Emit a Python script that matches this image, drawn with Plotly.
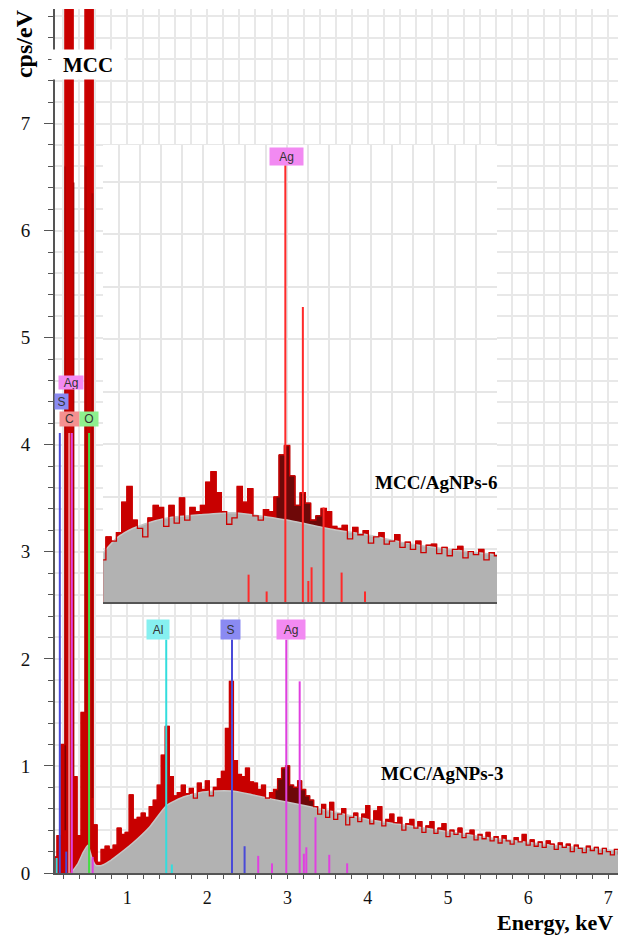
import plotly.graph_objects as go

# ---------------- data: MCC/AgNPs-3 (main spectrum) ----------------
main_e0 = 0.10
main_step = 0.05
cps_main = [
    0.15, 0.35, 1.20, 12.0, 12.0, 0.90, 0.35, 1.50, 12.0, 12.0,
    0.45, 0.10, 0.22, 0.25, 0.22, 0.26, 0.42, 0.36, 0.38, 0.73,
    0.50, 0.52, 0.56, 0.52, 0.62, 0.68, 0.82, 1.10, 1.37, 0.90,
    0.72, 0.75, 0.82, 0.74, 0.79, 0.70, 0.84, 0.78, 0.86, 0.72,
    0.80, 0.88, 0.95, 1.35, 1.79, 1.05, 0.92, 0.90, 0.98, 0.85,
    0.84, 0.78, 0.82, 0.70, 0.75, 0.78, 0.88, 0.98, 1.00, 0.82,
    0.80, 0.86, 0.78, 0.72, 0.68, 0.62, 0.55, 0.64, 0.52, 0.66,
    0.50, 0.55, 0.60, 0.45, 0.52, 0.56, 0.48, 0.55, 0.63, 0.46,
    0.58, 0.62, 0.44, 0.50, 0.55, 0.47, 0.52, 0.40, 0.46, 0.50,
    0.42, 0.48, 0.38, 0.44, 0.48, 0.37, 0.42, 0.46, 0.34, 0.40,
    0.36, 0.42, 0.33, 0.37, 0.40, 0.31, 0.36, 0.32, 0.38, 0.30,
    0.34, 0.28, 0.35, 0.30, 0.27, 0.33, 0.29, 0.36, 0.26, 0.31,
    0.25, 0.29, 0.24, 0.30, 0.27, 0.22, 0.28, 0.24, 0.27, 0.20,
    0.26, 0.23, 0.19, 0.25, 0.21, 0.24, 0.18, 0.23, 0.20, 0.17,
    0.22, 0.18, 0.24, 0.20,
]
bg_main_e = [0.30, 0.38, 0.45, 0.51, 0.56, 0.61, 0.68, 0.78, 0.87, 1.07, 1.28, 1.49, 1.70,
             1.90, 2.10, 2.30, 2.50, 2.80, 3.00, 3.40, 4.00, 4.70, 5.50, 6.30, 7.25]
bg_main = [0.00, 0.08, 0.19, 0.26, 0.14, 0.07, 0.07, 0.11, 0.16, 0.28, 0.43, 0.63, 0.71,
           0.75, 0.765, 0.765, 0.74, 0.69, 0.66, 0.60, 0.50, 0.42, 0.33, 0.26, 0.20]
# dark overlay edges inside the C / O peaks (bottom, top)
dark_co_e = [0.228, 0.332, 0.480, 0.568]
dark_co_lo = [0.40, 0.90, 1.50, 0.70]
dark_co_hi = [6.60, 6.45, 6.60, 6.35]

# element marker lines (main)
al_e = [0.12, 1.487, 1.557]
al_h = [0.14, 2.18, 0.08]
s_e = [0.16, 0.24, 2.307, 2.464]
s_h = [4.11, 0.20, 2.18, 0.25]
ag_e = [0.31, 0.57, 2.634, 2.806, 2.984, 3.151, 3.203, 3.234, 3.348, 3.520, 3.743]
ag_h = [4.11, 0.15, 0.16, 0.09, 2.18, 1.79, 0.18, 0.24, 0.52, 0.17, 0.09]
c_e = [0.277]
c_h = [4.11]
o_e = [0.525]
o_h = [4.11]

# ---------------- data: MCC/AgNPs-6 (inset spectrum) ----------------
ins_e0 = 1.25
ins_step = 0.05
cps_ins = [
    0.40, 0.62, 0.58, 0.66, 0.95, 1.10, 0.78, 0.70, 0.62, 0.80,
    0.92, 0.90, 0.72, 0.92, 0.75, 0.99, 0.78, 0.90, 0.86, 0.92,
    1.14, 1.24, 1.04, 0.86, 0.74, 0.80, 1.10, 0.95, 1.08, 0.82,
    0.78, 0.88, 0.86, 1.00, 1.40, 1.49, 1.20, 0.92, 1.04, 0.94,
    0.78, 0.82, 0.89, 0.86, 0.72, 0.70, 0.73, 0.60, 0.71, 0.64,
    0.68, 0.56, 0.62, 0.66, 0.55, 0.58, 0.64, 0.52, 0.57, 0.50,
    0.58, 0.47, 0.54, 0.55, 0.46, 0.52, 0.44, 0.50, 0.53, 0.42,
    0.48, 0.45, 0.50, 0.40, 0.47, 0.44,
]
bg_ins_e = [1.25, 1.38, 1.53, 1.70, 1.86, 2.17, 2.49, 2.81, 3.00, 3.44, 3.76, 4.08, 4.39, 4.71, 5.00]
bg_ins = [0.47, 0.61, 0.70, 0.76, 0.80, 0.83, 0.85, 0.81, 0.78, 0.69, 0.64, 0.57, 0.52, 0.48, 0.45]
ins_ag_e = [2.634, 2.806, 2.984, 3.151, 3.203, 3.234, 3.348, 3.520, 3.743]
ins_ag_h = [0.26, 0.10, 4.16, 2.81, 0.20, 0.33, 0.90, 0.28, 0.10]

y_tick_vals = [0, 1, 2, 3, 4, 5, 6, 7]
x_tick_vals = [1, 2, 3, 4, 5, 6, 7]

# ---------------- derived ----------------
e_main = [round(main_e0 + i * main_step, 3) for i in range(len(cps_main))]
e_ins = [round(ins_e0 + i * ins_step, 3) for i in range(len(cps_ins))]


def sticks(es, hs, lows=None):
    xs, ys = [], []
    for k, (e, h) in enumerate(zip(es, hs)):
        xs += [e, e, None]
        ys += [0 if lows is None else lows[k], h, None]
    return xs, ys


RED = "#c80000"
DARK = "#6e0808"
GRAY = "#b2b2b2"

fig = go.Figure()

# ---- main spectrum ----
fig.add_trace(go.Scatter(x=e_main, y=cps_main, mode="lines", line=dict(color=RED, width=1, shape="hvh"),
                         fill="tozeroy", fillcolor=RED, hoverinfo="skip"))
dk = [i for i, e in enumerate(e_main) if 2.85 <= e <= 3.40]
fig.add_trace(go.Scatter(x=[e_main[i] for i in dk], y=[cps_main[i] for i in dk], mode="lines",
                         line=dict(color=DARK, width=1, shape="hvh"), fill="tozeroy", fillcolor=DARK,
                         hoverinfo="skip"))
xs, ys = sticks(dark_co_e, dark_co_hi, dark_co_lo)
fig.add_trace(go.Scatter(x=xs, y=ys, mode="lines", line=dict(color="#7a0000", width=1.5), hoverinfo="skip"))
fig.add_trace(go.Scatter(x=bg_main_e, y=bg_main, mode="lines",
                         line=dict(color="#c6c6c6", width=1.5, shape="spline", smoothing=0.5),
                         fill="tozeroy", fillcolor=GRAY, hoverinfo="skip"))
fig.add_trace(go.Scatter(x=e_main, y=cps_main, mode="lines", line=dict(color="#cc0000", width=1.3, shape="hvh"),
                         hoverinfo="skip"))

for es, hs, col in [(al_e, al_h, "#33dddd"), (s_e, s_h, "#4a4ad8"), (ag_e, ag_h, "#e040e0"),
                    (c_e, c_h, "#f08a8a"), (o_e, o_h, "#44dd44")]:
    xs, ys = sticks(es, hs)
    fig.add_trace(go.Scatter(x=xs, y=ys, mode="lines", line=dict(color=col, width=2), hoverinfo="skip"))

# ---- inset spectrum ----
fig.add_trace(go.Scatter(x=e_ins, y=cps_ins, mode="lines", line=dict(color=RED, width=1, shape="hvh"),
                         fill="tozeroy", fillcolor=RED, xaxis="x2", yaxis="y2", hoverinfo="skip"))
dki = [i for i, e in enumerate(e_ins) if 2.90 <= e <= 3.35]
fig.add_trace(go.Scatter(x=[e_ins[i] for i in dki], y=[cps_ins[i] for i in dki], mode="lines",
                         line=dict(color=DARK, width=1, shape="hvh"), fill="tozeroy", fillcolor=DARK,
                         xaxis="x2", yaxis="y2", hoverinfo="skip"))
fig.add_trace(go.Scatter(x=bg_ins_e, y=bg_ins, mode="lines",
                         line=dict(color="#c6c6c6", width=1.5, shape="spline", smoothing=0.6),
                         fill="tozeroy", fillcolor=GRAY, xaxis="x2", yaxis="y2", hoverinfo="skip"))
fig.add_trace(go.Scatter(x=e_ins, y=cps_ins, mode="lines", line=dict(color="#cc0000", width=1.3, shape="hvh"),
                         xaxis="x2", yaxis="y2", hoverinfo="skip"))
xs, ys = sticks(ins_ag_e, ins_ag_h)
fig.add_trace(go.Scatter(x=xs, y=ys, mode="lines", line=dict(color="#ff2a2a", width=2),
                         xaxis="x2", yaxis="y2", hoverinfo="skip"))

SERIF = "Liberation Serif, Times New Roman, serif"
SANS = "Liberation Sans, Arial, sans-serif"
GRID = "#e8e8e8"

ann = []


def label(text, x, y, bg, w, h, xref="x", yref="y"):
    ann.append(dict(text=text, x=x, y=y, xref=xref, yref=yref, showarrow=False, bgcolor=bg,
                    xanchor="center", yanchor="middle",
                    width=w, height=h, borderpad=0, font=dict(family=SANS, size=12, color="#333333")))


label("Ag", 0.305, 4.585, "#f28af2", 24, 13)
label("S", 0.18, 4.40, "#8a8af2", 13, 15)
label("C", 0.28, 4.24, "#f49090", 19, 14)
label("O", 0.524, 4.24, "#8ef08e", 18, 14)
label("Al", 1.385, 2.27, "#86f0f0", 22, 19)
label("S", 2.29, 2.27, "#8a8af2", 19, 19)
label("Ag", 3.04, 2.27, "#f28af2", 28, 19)
label("Ag", 2.995, 4.24, "#f28af2", 33, 17, xref="x2", yref="y2")


def text(t, x, y, size, xref="x", yref="y", **kw):
    ann.append(dict(text=t, x=x, y=y, xref=xref, yref=yref, showarrow=False, xanchor="center",
                    yanchor="middle", font=dict(family=SERIF, size=size, color="black"), **kw))


text("<b>MCC</b>", 0.51, 7.55, 21, bgcolor="white", width=70, height=27)
text("<b>MCC/AgNPs-6</b>", 4.85, 3.645, 19)
text("<b>MCC/AgNPs-3</b>", 4.93, 0.925, 19)
text("<b>cps/eV</b>", -0.0545, 0.9606, 24, xref="paper", yref="paper", textangle=-90)
text("<b>Energy, keV</b>", 0.879, -0.0575, 22, xref="paper", yref="paper")

# the page body adds an 8 px offset, so the figure is 8 px smaller and shifted accordingly
fig.update_layout(
    width=618, height=929,
    margin=dict(l=47, r=2, t=1, b=64),
    paper_bgcolor="white", plot_bgcolor="white",
    showlegend=False,
    annotations=ann,
    xaxis=dict(range=[0.1, 7.195], showline=True, linecolor="#555555", linewidth=2, ticks="outside",
               ticklen=4, tickcolor="#555555", tickmode="array", tickvals=x_tick_vals,
               showgrid=True, gridcolor=GRID, gridwidth=2,
               zeroline=False, ticklabelstandoff=3,
               tickfont=dict(family=SERIF, size=18, color="#111111"),
               minor=dict(tick0=0, dtick=0.2, ticks="outside", ticklen=4, tickcolor="#555555", showgrid=True,
                          gridcolor=GRID, gridwidth=2)),
    yaxis=dict(range=[0, 8.07], showline=True, linecolor="#555555", linewidth=2, ticks="outside",
               ticklen=9, tickcolor="#555555", tickmode="array", tickvals=y_tick_vals,
               showgrid=True, gridcolor=GRID, gridwidth=2,
               zeroline=False, ticklabelstandoff=10,
               tickfont=dict(family=SERIF, size=19, color="#111111"),
               minor=dict(tick0=0, dtick=0.2, ticks="outside", ticklen=5, tickcolor="#555555", showgrid=True,
                          gridcolor=GRID, gridwidth=2)),
    xaxis2=dict(domain=[0.0844, 0.7768], anchor="y2", range=[1.2476, 5.0], showticklabels=False,
                ticks="", tick0=0, dtick=0.2, showgrid=True, gridcolor="#e6e6e6", gridwidth=2,
                showline=True, linecolor="#555555", linewidth=2, zeroline=False),
    yaxis2=dict(domain=[0.3137, 0.8426], anchor="x2", range=[0, 4.352], showticklabels=False,
                ticks="", tick0=0, dtick=0.5, showgrid=True, gridcolor="#e6e6e6", gridwidth=2,
                showline=False, zeroline=False),
)

fig.write_html("out.html")
